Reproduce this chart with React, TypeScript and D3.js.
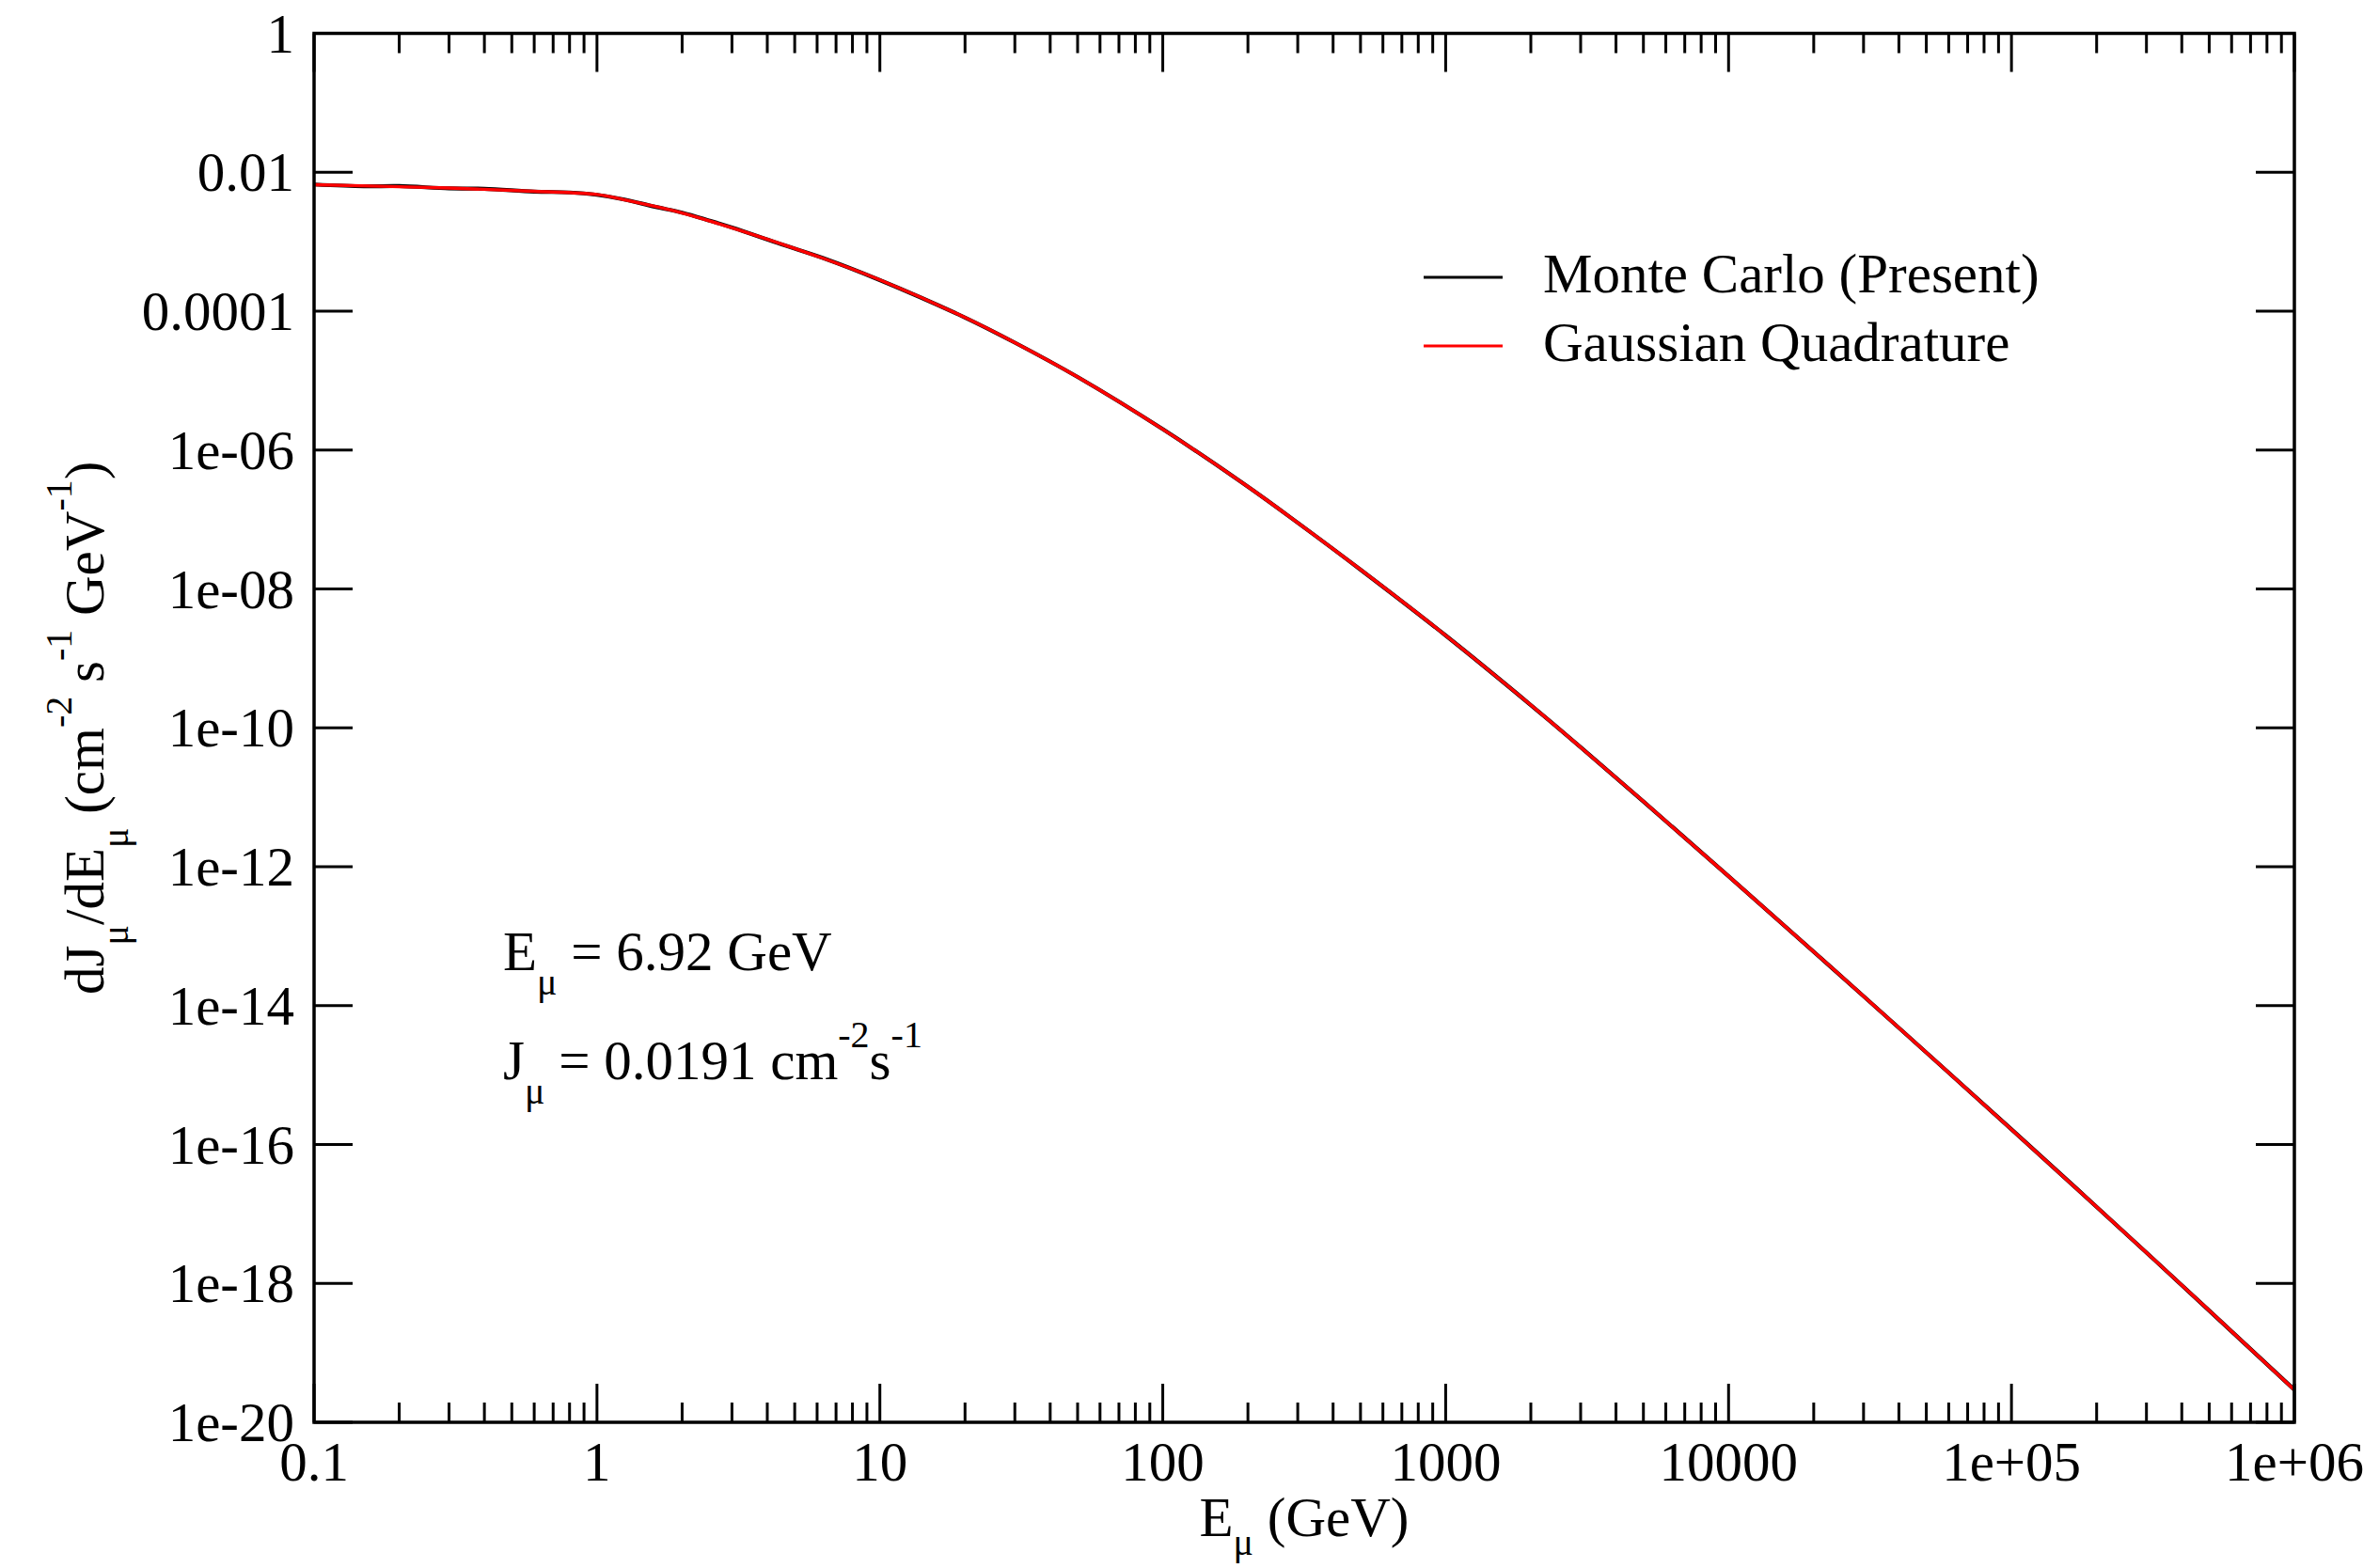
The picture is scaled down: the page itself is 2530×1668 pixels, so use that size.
import React from "react";
import * as d3 from "d3";

// Muon energy grid (GeV) and differential flux (cm^-2 s^-1 GeV^-1), quadrature result
const GQ_ENERGY = [
  0.1, 0.3, 0.6, 1, 1.25, 2, 3, 4.5, 6.3, 10, 20, 30, 50, 100, 200, 300, 500, 1000, 2000,
  3000, 5000, 1e4, 3e4, 1e5, 3e5, 1e6,
];
const GQ_FLUX = [
  6.607e-3, 5.93e-3, 5.33e-3, 4.786e-3, 4.009e-3, 2.594e-3, 1.585e-3, 9.25e-4, 5.77e-4,
  2.818e-4, 8.09e-5, 3.52e-5, 1.127e-5, 1.995e-6, 2.965e-7, 8.97e-8, 1.897e-8, 2.138e-9,
  2.128e-10, 5.25e-11, 8.71e-12, 7.29e-13, 1.368e-14, 1.652e-16, 2.78e-18, 2.94e-20,
];

// Monte Carlo estimate (small statistical scatter at low energy)
const MC_ENERGY = [
  0.1, 0.15, 0.2, 0.3, 0.4, 0.6, 0.8, 1, 1.25, 1.6, 2, 2.5, 3, 4.5, 6.3, 10, 20, 30, 50, 100,
  200, 300, 500, 1000, 2000, 3000, 5000, 1e4, 3e4, 1e5, 3e5, 1e6,
];
const MC_FLUX = [
  6.668e-3, 6.28e-3, 6.32e-3, 5.85e-3, 5.79e-3, 5.26e-3, 5.12e-3, 4.73e-3, 4.055e-3, 3.19e-3,
  2.624e-3, 2.014e-3, 1.6e-3, 9.14e-4, 5.82e-4, 2.8e-4, 8.09e-5, 3.52e-5, 1.127e-5, 1.995e-6,
  2.965e-7, 8.97e-8, 1.897e-8, 2.138e-9, 2.128e-10, 5.25e-11, 8.71e-12, 7.29e-13, 1.368e-14,
  1.652e-16, 2.78e-18, 2.94e-20,
];

const X_MAJOR = [0.1, 1, 10, 100, 1000, 1e4, 1e5, 1e6];
const X_LABELS = ["0.1", "1", "10", "100", "1000", "10000", "1e+05", "1e+06"];
const Y_MAJOR = [1, 1e-2, 1e-4, 1e-6, 1e-8, 1e-10, 1e-12, 1e-14, 1e-16, 1e-18, 1e-20];
const Y_LABELS = [
  "1", "0.01", "0.0001", "1e-06", "1e-08", "1e-10", "1e-12", "1e-14", "1e-16", "1e-18", "1e-20",
];

const SERIES_NAMES = ["Monte Carlo (Present)", "Gaussian Quadrature"];
const SERIES_COLORS = ["#000000", "#ff0000"];

const W = 2530;
const H = 1668;
const L = 334;
const R = 2440;
const T = 35.5;
const B = 1513;
const FONT = "'Liberation Serif', 'Times New Roman', Times, serif";
const FS = 59;
const SFS = 40;

export default function App() {
  const x = d3.scaleLog().domain([0.1, 1e6]).range([L, R]);
  const y = d3.scaleLog().domain([1e-20, 1]).range([B, T]);

  const line = d3
    .line<[number, number]>()
    .x((d) => x(d[0]))
    .y((d) => y(d[1]))
    .curve(d3.curveCatmullRom.alpha(0.5));

  const gq = GQ_ENERGY.map((e, i) => [e, GQ_FLUX[i]] as [number, number]);
  const mc = MC_ENERGY.map((e, i) => [e, MC_FLUX[i]] as [number, number]);

  const xTicks = x.ticks();
  const isMajor = (v: number) => Math.abs(Math.log10(v) - Math.round(Math.log10(v))) < 1e-9;

  const majorLen = 41;
  const minorLen = 21;

  return (
    <svg
      width={W}
      height={H}
      viewBox={`0 0 ${W} ${H}`}
      style={{ position: "absolute", left: 0, top: 0, background: "#fff" }}
      fontFamily={FONT}
    >
      <rect x={0} y={0} width={W} height={H} fill="#fff" />

      {/* curves */}
      <path d={line(mc) || ""} fill="none" stroke={SERIES_COLORS[0]} strokeWidth={4.2} strokeLinejoin="round" />
      <path d={line(gq) || ""} fill="none" stroke={SERIES_COLORS[1]} strokeWidth={3.4} strokeLinejoin="round" />

      {/* frame */}
      <rect x={L} y={T} width={R - L} height={B - T} fill="none" stroke="#000" strokeWidth={3.5} />

      {/* x ticks, bottom and top, pointing inward */}
      {xTicks.map((v, i) => {
        const len = isMajor(v) ? majorLen : minorLen;
        const px = x(v);
        return (
          <g key={`xt${i}`} stroke="#000" strokeWidth={3}>
            <line x1={px} x2={px} y1={B} y2={B - len} />
            <line x1={px} x2={px} y1={T} y2={T + len} />
          </g>
        );
      })}

      {/* y ticks, left and right */}
      {Y_MAJOR.map((v, i) => {
        const py = y(v);
        return (
          <g key={`yt${i}`} stroke="#000" strokeWidth={3}>
            <line x1={L} x2={L + majorLen} y1={py} y2={py} />
            <line x1={R} x2={R - majorLen} y1={py} y2={py} />
          </g>
        );
      })}

      {/* x tick labels */}
      {X_MAJOR.map((v, i) => (
        <text key={`xl${i}`} x={x(v)} y={B + 62} fontSize={FS} textAnchor="middle" fill="#000">
          {X_LABELS[i]}
        </text>
      ))}

      {/* y tick labels */}
      {Y_MAJOR.map((v, i) => (
        <text key={`yl${i}`} x={L - 21} y={y(v) + 20} fontSize={FS} textAnchor="end" fill="#000">
          {Y_LABELS[i]}
        </text>
      ))}

      {/* x axis title */}
      <text x={(L + R) / 2} y={1634} fontSize={FS} textAnchor="middle" fill="#000">
        E
        <tspan dy={20} fontSize={SFS}>μ</tspan>
        <tspan dy={-20}> (GeV)</tspan>
      </text>

      {/* y axis title */}
      <text
        transform={`translate(110, ${(T + B) / 2}) rotate(-90)`}
        fontSize={FS}
        textAnchor="middle"
        fill="#000"
      >
        dJ
        <tspan dy={26} fontSize={SFS}>μ</tspan>
        <tspan dy={-26}>/dE</tspan>
        <tspan dy={26} fontSize={SFS}>μ</tspan>
        <tspan dy={-26}>{"  (cm"}</tspan>
        <tspan dy={-34} fontSize={SFS}>-2</tspan>
        <tspan dy={34}> s</tspan>
        <tspan dy={-34} fontSize={SFS}>-1</tspan>
        <tspan dy={34}> GeV</tspan>
        <tspan dy={-34} fontSize={SFS}>-1</tspan>
        <tspan dy={34}>)</tspan>
      </text>

      {/* legend */}
      {SERIES_NAMES.map((name, i) => (
        <g key={`lg${i}`}>
          <line
            x1={1514}
            x2={1598}
            y1={295 + i * 73}
            y2={295 + i * 73}
            stroke={SERIES_COLORS[i]}
            strokeWidth={3}
          />
          <text x={1641} y={311 + i * 73} fontSize={FS} fill="#000">
            {name}
          </text>
        </g>
      ))}

      {/* annotations */}
      <text x={535} y={1032} fontSize={FS} fill="#000">
        E
        <tspan dy={26} fontSize={SFS}>μ</tspan>
        <tspan dy={-26}> = 6.92 GeV</tspan>
      </text>
      <text x={535} y={1148} fontSize={FS} fill="#000">
        J
        <tspan dy={26} fontSize={SFS}>μ</tspan>
        <tspan dy={-26}> = 0.0191 cm</tspan>
        <tspan dy={-34} fontSize={SFS}>-2</tspan>
        <tspan dy={34}>s</tspan>
        <tspan dy={-34} fontSize={SFS}>-1</tspan>
      </text>
    </svg>
  );
}
